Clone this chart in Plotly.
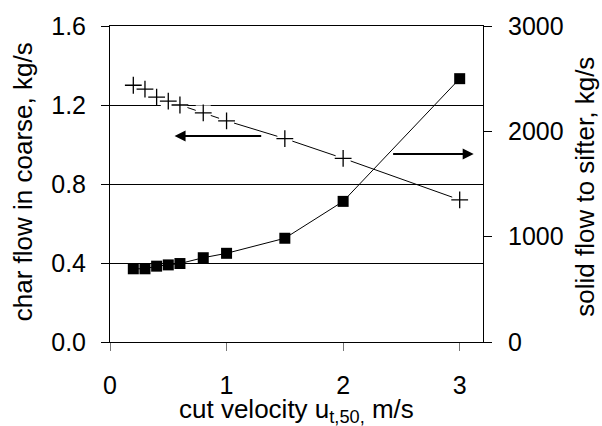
import plotly.graph_objects as go

# cut velocity u_t,50 in m/s
cut_velocity = [0.2, 0.3, 0.4, 0.5, 0.6, 0.8, 1.0, 1.5, 2.0, 3.0]
# char flow in coarse, kg/s (left axis, "+" markers)
char_coarse = [1.30, 1.28, 1.24, 1.22, 1.20, 1.16, 1.12, 1.03, 0.93, 0.72]
# solid flow to sifter, kg/s (right axis, square markers)
solid_sifter = [695, 695, 720, 732, 745, 800, 842, 985, 1335, 2500]

x_ticks = [0, 1, 2, 3]
left_ticks = [0.0, 0.4, 0.8, 1.2, 1.6]
right_ticks = [0, 1000, 2000, 3000]

FONT = "Arial, Liberation Sans, sans-serif"

fig = go.Figure()

# plus series: line with white boxes behind markers (gaps like the original)
fig.add_trace(go.Scatter(x=cut_velocity, y=char_coarse, mode="lines+markers",
                         line=dict(color="black", width=1),
                         marker=dict(symbol="square", size=15, color="white", line=dict(width=0)),
                         showlegend=False, hoverinfo="skip"))
fig.add_trace(go.Scatter(x=cut_velocity, y=char_coarse, mode="markers",
                         marker=dict(symbol="cross-thin", size=12, line=dict(color="black", width=1.3)),
                         name="char flow in coarse", showlegend=False))

# squares series on right axis
fig.add_trace(go.Scatter(x=cut_velocity, y=solid_sifter, mode="lines+markers", yaxis="y2",
                         line=dict(color="black", width=1),
                         marker=dict(symbol="square", size=11, color="black"),
                         name="solid flow to sifter", showlegend=False))

fig.update_layout(
    width=602, height=426,
    margin=dict(l=110, r=119, t=26, b=84),
    paper_bgcolor="white", plot_bgcolor="white",
    font=dict(family=FONT, size=25, color="black"),
    xaxis=dict(range=[0, 3.2], tickvals=x_ticks, showgrid=False, zeroline=False, automargin=False,
               showline=True, linecolor="black", linewidth=1, mirror=True,
               ticks="outside", ticklen=8, tickcolor="#777", ticklabelstandoff=13),
    yaxis=dict(range=[0, 1.6], tickvals=left_ticks, tickformat=".1f", showgrid=True,
               gridcolor="black", gridwidth=1, zeroline=False, automargin=False,
               showline=True, linecolor="black", linewidth=1,
               ticks="outside", ticklen=8, tickcolor="black", ticklabelstandoff=10),
    yaxis2=dict(range=[0, 3000], tickvals=right_ticks, overlaying="y", side="right",
                showgrid=False, zeroline=False, showline=True, linecolor="black", linewidth=1,
                automargin=False, ticks="outside", ticklen=8, tickcolor="black", ticklabelstandoff=11),
    yaxis3=dict(range=[0, 3000], tickvals=right_ticks, overlaying="y", side="right", anchor="x",
                showgrid=False, zeroline=False, showline=False, showticklabels=False,
                automargin=False, ticks="inside", ticklen=8, tickcolor="black"),
)

# axis titles
title_font = dict(family=FONT, size=26, color="black")
fig.add_annotation(text="cut velocity u<sub>t,50,</sub> m/s", xref="paper", yref="paper",
                   x=0.5, y=-0.218, xanchor="center", yanchor="middle", showarrow=False, font=title_font)
fig.add_annotation(text="char flow in coarse, kg/s", xref="paper", yref="paper", textangle=-90,
                   x=-0.233, y=0.506, xanchor="center", yanchor="middle", showarrow=False, font=title_font)
fig.add_annotation(text="solid flow to sifter, kg/s", xref="paper", yref="paper", textangle=-90,
                   x=1.275, y=0.49, xanchor="center", yanchor="middle", showarrow=False, font=title_font)

# arrows pointing to the axis each curve belongs to
fig.add_annotation(x=0.554, y=1.043, ax=1.31, ay=1.043, xref="x", yref="y", axref="x", ayref="y",
                   text="", showarrow=True, arrowhead=2, arrowsize=1.1, arrowwidth=2, arrowcolor="black")
fig.add_annotation(x=3.12, y=0.952, ax=2.416, ay=0.952, xref="x", yref="y", axref="x", ayref="y",
                   text="", showarrow=True, arrowhead=2, arrowsize=1.1, arrowwidth=2, arrowcolor="black")

# drop the page's default body margin so the figure fills the window exactly
fig.write_html("out.html", config={"displayModeBar": False},
               post_script="document.body.style.margin='0';document.body.style.overflow='hidden';")
